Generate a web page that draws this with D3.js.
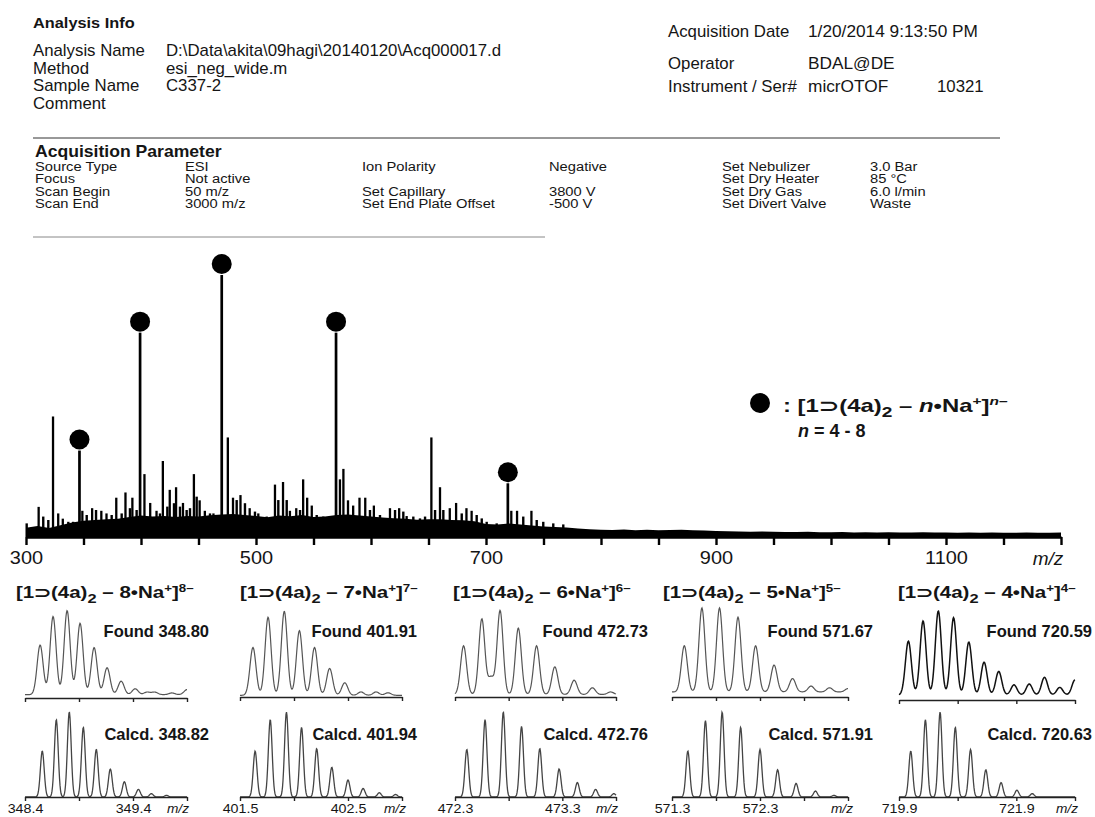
<!DOCTYPE html>
<html lang="en">
<head>
<meta charset="UTF-8">
<title>ESI-TOF mass spectrum</title>
<script src="https://d3js.org/d3.v7.min.js"></script>
<style>
  body { margin: 0; background: #fff; }
  svg { display: block; font-family: "Liberation Sans", Arial, Helvetica, sans-serif; }
</style>
</head>
<body>
<div id="vis"></div>
<script>
// ---- report header ----
const infoRows = [
  ["Analysis Name", "D:\\Data\\akita\\09hagi\\20140120\\Acq000017.d"],
  ["Method", "esi_neg_wide.m"],
  ["Sample Name", "C337-2"],
  ["Comment", ""]
];
const acqRows = [
  ["Acquisition Date", "1/20/2014 9:13:50 PM", ""],
  ["Operator", "BDAL@DE", ""],
  ["Instrument / Ser#", "micrOTOF", "10321"]
];
const paramCols = [
  [["Source Type", "ESI"], ["Focus", "Not active"], ["Scan Begin", "50 m/z"], ["Scan End", "3000 m/z"]],
  [["Ion Polarity", "Negative"], ["", ""], ["Set Capillary", "3800 V"], ["Set End Plate Offset", "-500 V"]],
  [["Set Nebulizer", "3.0 Bar"], ["Set Dry Heater", "85 °C"], ["Set Dry Gas", "6.0 l/min"], ["Set Divert Valve", "Waste"]]
];

// ---- survey spectrum ----
const mainTicks = [300, 350, 400, 450, 500, 550, 600, 650, 700, 750, 800, 850, 900, 950, 1000, 1050, 1100, 1150, 1200];
const mainTickLabels = [300, 500, 700, 900, 1100];
// assigned cluster peaks [1⊃(4a)2 – n·Na+]n–, n = 8..4
const clusterMz = [346.5, 399.2, 470.2, 569.6, 719];
const clusterInt = [33, 78, 100, 78, 20.5];
// other resolved peaks
const otherMz = [311, 323.5, 328, 332, 349, 357.5, 365.5, 370, 378.5, 386.5, 392.5, 403, 408, 413.5,
  419, 425, 430.5, 436.5, 446, 451, 455.5, 463, 475.5, 480, 486.5, 494.5, 502, 516.5, 523.5, 529.5,
  535, 541, 544.5, 548.5, 573, 576, 580, 584.5, 590, 595, 602.5, 616.5, 624.5, 631, 652.5, 660,
  668.5, 674, 683, 687.5, 722, 727, 739.5];
const otherInt = [11.5, 46, 9, 7, 10, 11, 10, 9, 15, 17, 15, 24, 13, 10,
  29, 18, 19, 13, 24, 14, 10, 9, 38, 15, 16, 11, 9, 20, 21, 10,
  11, 22, 15, 12, 22, 26, 14, 12, 15, 15, 12, 11, 11, 8, 38, 19,
  11, 13, 11, 10, 10, 10, 10];
// small "grass" peaks above the noise
const grassMz = [300.6, 315, 319.4, 336.8, 341, 352.8, 360.9, 374.5, 383.2, 390.4, 396.2, 416.5, 422.9,
  428.7, 433.9, 439.7, 442.6, 448.4, 460, 465.8, 483.2, 490.4, 499.1, 509.3, 519.4, 526.7, 538.3,
  552.8, 558.5, 564.3, 599.1, 607.8, 620.9, 628.1, 636.8, 642.6, 647, 655.7, 662.9, 678.9, 691.9,
  696.3, 700.6, 709.3, 732.4, 744.1, 749.8, 758.5, 767.2];
const grassInt = [5.2, 7.8, 6.5, 5.8, 5.8, 8.4, 10.3, 8.4, 9, 11, 10.3, 9, 11.6,
  12.9, 11.6, 10.3, 11, 15.4, 9, 8.4, 14.1, 12.9, 9.7, 7.8, 14.1, 14.1, 10.3,
  8.4, 7.8, 7.8, 10.3, 8.4, 10.3, 9.7, 7.8, 7.1, 7.8, 10.3, 10.3, 9, 8.4,
  7.1, 5.8, 5.2, 7.8, 6.5, 5.8, 5.2, 4.8];
// chemical noise level, every 10 m/z from 300 to 1200
const noiseMz = [300, 310, 320, 330, 340, 350, 360, 370, 380, 390, 400, 410, 420, 430, 440, 450, 460, 470, 480, 490,
  500, 510, 520, 530, 540, 550, 560, 570, 580, 590, 600, 610, 620, 630, 640, 650, 660, 670, 680, 690,
  700, 710, 720, 730, 740, 750, 760, 770, 780, 790, 800, 810, 820, 830, 840, 850, 860, 870, 880, 890,
  900, 910, 920, 930, 940, 950, 960, 970, 980, 990, 1000, 1010, 1020, 1030, 1040, 1050, 1060, 1070, 1080, 1090,
  1100, 1110, 1120, 1130, 1140, 1150, 1160, 1170, 1180, 1190, 1200];
const noiseLevel = [3.5, 4.2, 3.4, 4.5, 5.5, 6.2, 6.5, 6.8, 7.0, 7.6,
  8.2, 7.8, 8.0, 7.6, 8.0, 7.8, 8.3, 8.6, 8.8, 8.4,
  8.0, 7.5, 8.2, 7.9, 8.4, 7.6, 7.8, 8.4, 8.6, 8.2,
  7.8, 7.4, 7.2, 7.0, 6.6, 6.8, 6.8, 6.5, 6.4, 6.0,
  5.0, 4.8, 5.2, 4.8, 4.4, 4.0, 3.8, 3.6, 3.2, 3.0,
  2.8, 2.7, 2.9, 2.6, 2.8, 2.6, 2.7, 2.8, 2.6, 2.5,
  2.3, 2.2, 2.1, 2.0, 2.1, 2.0, 1.9, 1.9, 2.0, 1.8,
  1.8, 1.9, 1.7, 1.8, 1.7, 1.8, 1.7, 1.7, 1.8, 1.7,
  1.7, 1.6, 1.7, 1.6, 1.7, 1.6, 1.6, 1.7, 1.6, 1.6, 1.7];

// ---- isotope patterns ----
const charges = [8, 7, 6, 5, 4];
const foundLabels = ["348.80", "401.91", "472.73", "571.67", "720.59"];
const calcdLabels = ["348.82", "401.94", "472.76", "571.91", "720.63"];
const zoomDomains = [[348.4, 349.9], [401.5, 403.0], [472.3, 473.8], [571.3, 573.3], [719.9, 722.9]];
const zoomTicks = [
  [348.4, 348.9, 349.4, 349.9],
  [401.5, 402.0, 402.5, 403.0],
  [472.3, 472.8, 473.3, 473.8],
  [571.3, 571.8, 572.3, 572.8, 573.3],
  [719.9, 720.9, 721.9, 722.9]
];
const zoomTickLabels = [[348.4, 349.4], [401.5, 402.5], [472.3, 473.3], [571.3, 572.3], [719.9, 721.9]];
const foundMz = [
  [348.54, 348.66, 348.79, 348.91, 349.04, 349.16, 349.29, 349.42, 349.53, 349.60, 349.76, 349.90],
  [401.62, 401.76, 401.91, 402.05, 402.19, 402.33, 402.47, 402.62, 402.76, 402.87],
  [472.38, 472.55, 472.635, 472.72, 472.89, 473.06, 473.23, 473.41, 473.58, 473.75],
  [571.44, 571.64, 571.84, 572.05, 572.25, 572.46, 572.67, 572.88, 573.09, 573.30],
  [720.06, 720.31, 720.57, 720.83, 721.09, 721.35, 721.60, 721.86, 722.12, 722.38, 722.64, 722.90]
];
const foundInt = [
  [0.59, 0.93, 1.0, 0.85, 0.56, 0.32, 0.16, 0.07, 0.03, 0.03, 0.02, 0.06],
  [0.57, 0.93, 1.0, 0.77, 0.57, 0.32, 0.15, 0.04, 0.04, 0.03],
  [0.58, 0.90, 0.2, 1.0, 0.79, 0.58, 0.33, 0.17, 0.08, 0.03],
  [0.55, 1.0, 1.0, 0.89, 0.55, 0.32, 0.16, 0.07, 0.05, 0.04],
  [0.64, 0.88, 1.0, 0.92, 0.63, 0.39, 0.28, 0.12, 0.13, 0.21, 0.09, 0.18]
];
const foundBase = [0.04, 0.02, 0.03, 0.06, 0.06];
const calcdMz = [
  [348.56, 348.69, 348.81, 348.94, 349.06, 349.19, 349.32, 349.45, 349.57, 349.71],
  [401.64, 401.78, 401.93, 402.07, 402.21, 402.35, 402.50, 402.64, 402.79, 402.94],
  [472.41, 472.58, 472.75, 472.92, 473.09, 473.27, 473.44, 473.61, 473.78],
  [571.48, 571.68, 571.87, 572.08, 572.30, 572.50, 572.71, 572.93, 573.14],
  [720.10, 720.35, 720.60, 720.86, 721.12, 721.38, 721.64, 721.91, 722.17]
];
const calcdInt = [
  [0.54, 0.91, 1.0, 0.82, 0.56, 0.33, 0.18, 0.09, 0.04, 0.02],
  [0.54, 0.91, 1.0, 0.82, 0.57, 0.35, 0.20, 0.10, 0.05, 0.03],
  [0.56, 0.91, 1.0, 0.83, 0.57, 0.33, 0.17, 0.09, 0.04],
  [0.54, 0.90, 1.0, 0.82, 0.56, 0.32, 0.16, 0.07, 0.02],
  [0.54, 0.91, 1.0, 0.82, 0.56, 0.32, 0.17, 0.08, 0.04]
];

const W = 1095, H = 817;
const svg = d3.select("#vis").append("svg").attr("width", W).attr("height", H);
const ink = "#151515";

// text helper; str may be a list of [text, kind] parts for sub/superscripts
function addText(parent, x, y, str, o = {}) {
  const size = o.size || 14;
  const g = parent.append("g");
  const t = g.append("text")
    .attr("font-size", size)
    .attr("font-weight", o.bold ? "bold" : null)
    .attr("font-style", o.italic ? "italic" : null)
    .attr("text-anchor", o.anchor || "start")
    .attr("fill", o.fill || ink);
  if (Array.isArray(str)) {
    let shift = 0;
    str.forEach(([s, kind]) => {
      const to = kind === "sub" ? size * 0.3 : (kind === "sup" || kind === "supi") ? -size * 0.4 : 0;
      const ts = t.append("tspan").text(s).attr("dy", to - shift);
      shift = to;
      if (kind === "sub") ts.attr("font-size", size * 0.8);
      if (kind === "sup" || kind === "supi") ts.attr("font-size", size * 0.65);
      if (kind === "i" || kind === "supi") ts.attr("font-style", "italic");
    });
  } else {
    t.text(str);
  }
  let sx = o.sx || 1;
  if (o.width) sx = o.width / t.node().getBBox().width;
  g.attr("transform", `translate(${x},${y}) scale(${sx},1)`);
  return t;
}

// ---- header ----
addText(svg, 33, 28, "Analysis Info", { size: 15, bold: true, sx: 1.09 });
infoRows.forEach(([k, v], i) => {
  const y = 56 + i * 17.5;
  addText(svg, 33, y, k, { size: 16, sx: 1.05 });
  if (v) addText(svg, 166, y, v, { size: 16, sx: 1.05 });
});
const acqY = [37, 69, 92];
acqRows.forEach(([k, v, s], i) => {
  addText(svg, 668, acqY[i], k, { size: 16, sx: 1.05 });
  addText(svg, 808, acqY[i], v, { size: 16, sx: 1.08 });
  if (s) addText(svg, 937, acqY[i], s, { size: 16, sx: 1.05 });
});
svg.append("line").attr("x1", 33).attr("x2", 1000).attr("y1", 138).attr("y2", 138)
  .attr("stroke", "#333").attr("stroke-width", 1);

addText(svg, 35, 157, "Acquisition Parameter", { size: 16, bold: true, sx: 1.1 });
const paramX = [[35, 185], [362, 549], [722, 870]];
const paramY = [171, 183.3, 195.6, 208];
paramCols.forEach((col, c) => {
  col.forEach(([k, v], r) => {
    if (k) addText(svg, paramX[c][0], paramY[r], k, { size: 13.5, sx: 1.09 });
    if (v) addText(svg, paramX[c][1], paramY[r], v, { size: 13.5, sx: 1.09 });
  });
});
svg.append("line").attr("x1", 33).attr("x2", 545).attr("y1", 237).attr("y2", 237)
  .attr("stroke", "#888").attr("stroke-width", 1);

// ---- survey spectrum ----
const mainX = d3.scaleLinear().domain([300, 1200]).range([26, 1061]);
const mainY = d3.scaleLinear().domain([0, 100]).range([537, 275]);

svg.append("path")
  .datum(d3.zip(noiseMz, noiseLevel))
  .attr("d", d3.area().x(d => mainX(d[0])).y0(mainY(0)).y1(d => mainY(d[1])))
  .attr("fill", "#000");

function sticks(cls, mzs, ints, width) {
  svg.selectAll("line." + cls).data(d3.zip(mzs, ints)).join("line")
    .attr("class", cls)
    .attr("x1", d => mainX(d[0])).attr("x2", d => mainX(d[0]))
    .attr("y1", mainY(0)).attr("y2", d => mainY(d[1]))
    .attr("stroke", "#000").attr("stroke-width", width);
}
sticks("grass", grassMz, grassInt, 2.4);
sticks("other", otherMz, otherInt, 2.3);
sticks("cluster", clusterMz, clusterInt, 2.7);

svg.selectAll("circle.mark").data(d3.zip(clusterMz, clusterInt)).join("circle")
  .attr("class", "mark")
  .attr("cx", d => mainX(d[0])).attr("cy", d => mainY(d[1]) - 11)
  .attr("r", 10).attr("fill", "#000");

const mainAxis = svg.append("g").attr("transform", `translate(0,${mainY(0)})`)
  .call(d3.axisBottom(mainX).tickValues(mainTicks).tickSize(8).tickSizeOuter(0).tickPadding(6)
    .tickFormat(d => mainTickLabels.includes(d) ? d : ""));
mainAxis.attr("font-family", null).attr("font-size", 19);
mainAxis.select(".domain").attr("stroke", "#000").attr("stroke-width", 2.6);
mainAxis.selectAll(".tick line").attr("stroke", "#000").attr("stroke-width", 2.4);
mainAxis.selectAll(".tick text").attr("fill", ink).attr("transform", "scale(1.05,1)");
addText(svg, 1048, 565, "m/z", { size: 19, italic: true, anchor: "middle" });

// legend
svg.append("circle").attr("cx", 760).attr("cy", 403).attr("r", 10).attr("fill", "#000");
addText(svg, 783, 412, [[": [1⊃(4a)", ""], ["2", "sub"], [" – ", ""], ["n", "i"], ["•Na", ""], ["+", "sup"], ["]", ""], ["n–", "supi"]],
  { size: 18, bold: true, width: 225 });
addText(svg, 798, 437, [["n", "i"], [" = 4 - 8", ""]], { size: 18, bold: true });

// ---- isotope pattern panels ----
const colLeft = [25, 240, 455, 672, 899];
const colRight = [187, 402, 616, 848, 1075];
const titleX = [16, 240, 453, 663, 898];
const textEnd = [209, 417, 648, 873, 1092];
const mzLabelX = [178, 395, 607, 842, 1067];
const foundAxisY = [698, 697, 697, 697, 700];
const calcdAxisY = 797;

function profile(xs, mzs, ints, base, sigma) {
  const cx = mzs.map(xs);
  const [a, b] = xs.range();
  const pts = [];
  for (let px = a; px <= b + 0.01; px += 0.5) {
    let v = base;
    cx.forEach((c, k) => { v += ints[k] * Math.exp(-((px - c) ** 2) / (2 * sigma * sigma)); });
    pts.push([px, v]);
  }
  return pts;
}

function styleAxis(g) {
  g.attr("font-family", null).attr("font-size", 12.4);
  g.select(".domain").attr("stroke", "#222").attr("stroke-width", 1.4);
  g.selectAll(".tick line").attr("stroke", "#222").attr("stroke-width", 1.4);
  g.selectAll(".tick text").attr("fill", ink).attr("transform", "scale(1.15,1)");
}

charges.forEach((n, i) => {
  const xs = d3.scaleLinear().domain(zoomDomains[i]).range([colLeft[i], colRight[i]]);
  const yF = d3.scaleLinear().domain([0, 1]).range([foundAxisY[i], foundAxisY[i] - 84]);
  const yC = d3.scaleLinear().domain([0, 1]).range([calcdAxisY, calcdAxisY - 85]);

  addText(svg, titleX[i], 598,
    [["[1⊃(4a)", ""], ["2", "sub"], [` – ${n}•Na`, ""], ["+", "sup"], ["]", ""], [`${n}–`, "sup"]],
    { size: 16, bold: true, width: 178 });

  // found
  svg.append("path")
    .datum(profile(xs, foundMz[i], foundInt[i], foundBase[i], 3))
    .attr("d", d3.line().x(d => d[0]).y(d => yF(d[1])))
    .attr("fill", "none")
    .attr("stroke", i === 4 ? "#111" : "#555")
    .attr("stroke-width", i === 4 ? 1.5 : 1.2);
  styleAxis(svg.append("g").attr("transform", `translate(0,${foundAxisY[i]})`)
    .call(d3.axisBottom(xs).tickValues(zoomTicks[i]).tickSize(4).tickSizeOuter(0).tickFormat("")));
  addText(svg, textEnd[i], 637, `Found ${foundLabels[i]}`, { size: 16.5, bold: true, anchor: "end" });

  // calcd
  svg.append("path")
    .datum(profile(xs, calcdMz[i], calcdInt[i], 0, 1.9))
    .attr("d", d3.line().x(d => d[0]).y(d => yC(d[1])))
    .attr("fill", "none").attr("stroke", "#444").attr("stroke-width", 1.3);
  styleAxis(svg.append("g").attr("transform", `translate(0,${calcdAxisY})`)
    .call(d3.axisBottom(xs).tickValues(zoomTicks[i]).tickSize(4).tickSizeOuter(0).tickPadding(3)
      .tickFormat(d => zoomTickLabels[i].includes(d) ? d.toFixed(1) : "")));
  addText(svg, textEnd[i], 740, `Calcd. ${calcdLabels[i]}`, { size: 16.5, bold: true, anchor: "end" });

  addText(svg, mzLabelX[i], 813, "m/z", { size: 12.4, italic: true, anchor: "middle", sx: 1.1 });
});
</script>
</body>
</html>
